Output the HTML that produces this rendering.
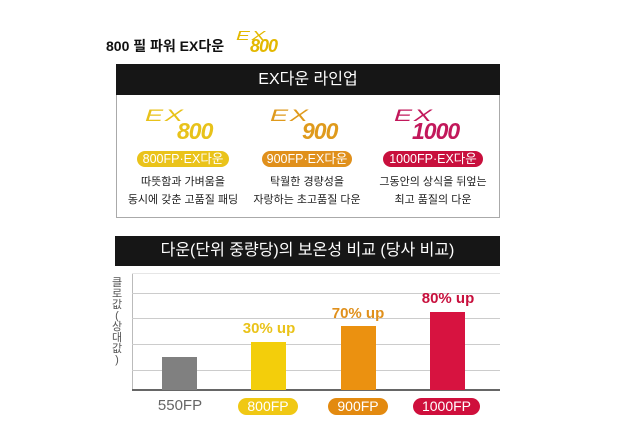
<!DOCTYPE html>
<html><head><meta charset="utf-8"><style>
*{margin:0;padding:0;box-sizing:border-box}
body{width:640px;height:443px;background:#fff;position:relative;overflow:hidden;font-family:"Liberation Sans","Noto Sans CJK KR",sans-serif}
.a{position:absolute}
.hdr{background:#161616;color:#fff;text-align:center;font-size:16px;line-height:30px}
.logo{position:absolute;font-style:italic;font-weight:bold;letter-spacing:-1px}
.logo .e{position:absolute;font-size:17px;font-weight:normal;transform:scaleX(1.6);transform-origin:left;letter-spacing:1px}
.logo .n{position:absolute;font-size:23px}
.pill{position:absolute;border-radius:8px;color:#fff;text-align:center;font-size:12.5px;line-height:16px}
.desc{position:absolute;text-align:center;font-size:11px;line-height:18px;color:#222;width:150px}
.grid{position:absolute;left:132px;width:368px;height:1px;background:#ccc}
.bar{position:absolute;bottom:53px;width:35px}
.lbl{position:absolute;font-size:15px;font-weight:bold;text-align:center;width:90px}
.xp{position:absolute;top:398px;height:17px;border-radius:9px;color:#fff;font-size:14px;line-height:17px;text-align:center}
</style></head><body>
<div class="a" style="left:106px;top:36px;font-size:14px;font-weight:bold;color:#111">800 필 파워 EX다운</div>
<div class="logo" style="left:236px;top:30px;color:#e3b800">
 <span class="e" style="left:0;top:-2px;font-size:13px">EX</span><span class="n" style="left:14px;top:6px;font-size:18px">800</span></div>

<div class="a hdr" style="left:116px;top:64px;width:384px;height:31px;font-size:16px;line-height:31px">EX다운 라인업</div>
<div class="a" style="left:116px;top:95px;width:384px;height:123px;border:1px solid #aaa;border-top:none"></div>

<div class="logo" style="left:145px;top:106px;color:#e8c21a"><span class="e" style="left:0;top:0">EX</span><span class="n" style="left:32px;top:12px">800</span></div>
<div class="logo" style="left:270px;top:106px;color:#df9a1c"><span class="e" style="left:0;top:0">EX</span><span class="n" style="left:32px;top:12px">900</span></div>
<div class="logo" style="left:394px;top:106px;color:#c2185b"><span class="e" style="left:0;top:0">EX</span><span class="n" style="left:18px;top:12px">1000</span></div>

<div class="pill" style="left:137px;top:151px;width:92px;background:#eac31a">800FP·EX다운</div>
<div class="pill" style="left:262px;top:151px;width:90px;background:#e0901c">900FP·EX다운</div>
<div class="pill" style="left:383px;top:151px;width:100px;background:#c8103d">1000FP·EX다운</div>

<div class="desc" style="left:108px;top:173px">따뜻함과 가벼움을<br>동시에 갖춘 고품질 패딩</div>
<div class="desc" style="left:232px;top:173px">탁월한 경량성을<br>자랑하는 초고품질 다운</div>
<div class="desc" style="left:358px;top:173px">그동안의 상식을 뒤엎는<br>최고 품질의 다운</div>

<div class="a hdr" style="left:115px;top:236px;width:385px;height:30px">다운(단위 중량당)의 보온성 비교 (당사 비교)</div>

<div class="a" style="left:132px;top:273px;width:1px;height:117px;background:#bbb"></div>
<div class="grid" style="top:273px;background:#e6e6e6"></div>
<div class="grid" style="top:293px"></div>
<div class="grid" style="top:318px"></div>
<div class="grid" style="top:344px"></div>
<div class="grid" style="top:370px"></div>
<div class="a" style="left:132px;top:389px;width:368px;height:2px;background:#666"></div>
<div class="a" style="left:110px;top:278px;width:14px;font-size:11px;line-height:11px;color:#555;text-align:center">클<br>로<br>값<br>(<br>상<br>대<br>값<br>)</div>

<div class="bar" style="left:162px;top:357px;height:33px;background:#808080"></div>
<div class="bar" style="left:251px;top:342px;height:48px;background:#f3ce0b"></div>
<div class="bar" style="left:341px;top:326px;height:64px;background:#eb9110"></div>
<div class="bar" style="left:430px;top:312px;height:78px;background:#d71340"></div>

<div class="lbl" style="left:224px;top:320px;color:#eac31a">30% up</div>
<div class="lbl" style="left:313px;top:305px;color:#e0901c">70% up</div>
<div class="lbl" style="left:403px;top:290px;color:#c8103d">80% up</div>

<div class="a" style="left:150px;top:397px;width:60px;text-align:center;font-size:15px;color:#666">550FP</div>
<div class="xp" style="left:238px;width:60px;background:#f0c814">800FP</div>
<div class="xp" style="left:328px;width:60px;background:#e38a10">900FP</div>
<div class="xp" style="left:413px;width:67px;background:#cf0f3c">1000FP</div>
</body></html>
